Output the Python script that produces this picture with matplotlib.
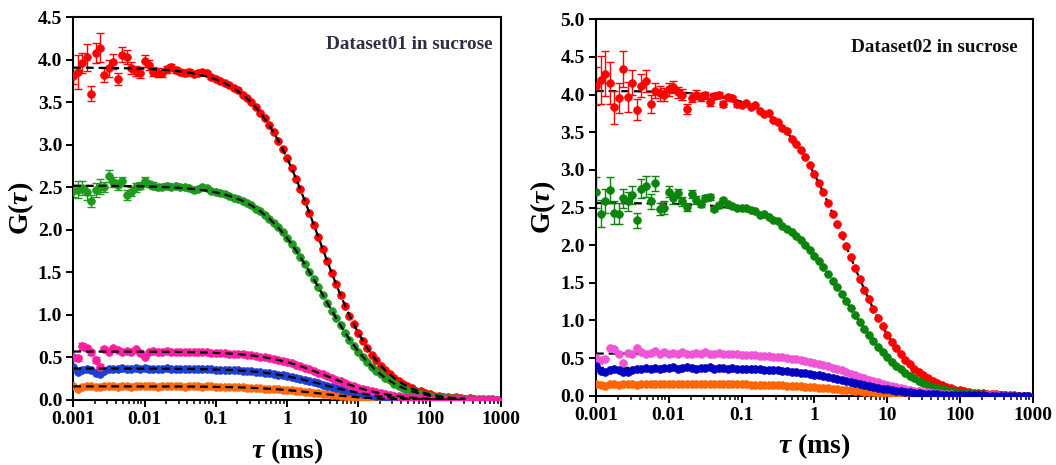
import matplotlib.pyplot as plt
import numpy as np

# шрифты: Times-подобный жирный
plt.rcParams['font.family'] = ['Liberation Serif', 'DejaVu Serif']
plt.rcParams['font.weight'] = 'bold'
plt.rcParams['mathtext.fontset'] = 'custom'
plt.rcParams['mathtext.it'] = 'Liberation Serif:italic:bold'
plt.rcParams['mathtext.rm'] = 'Liberation Serif:bold'

# времена задержки, мс
tau = [0.001, 0.001155, 0.001334, 0.00154, 0.001778, 0.002054, 0.002371, 0.002738,
       0.003162, 0.003652, 0.004217, 0.00487, 0.005623, 0.006494, 0.007499, 0.00866,
       0.01, 0.01155, 0.01334, 0.0154, 0.01778, 0.02054, 0.02371, 0.02738,
       0.03162, 0.03652, 0.04217, 0.0487, 0.05623, 0.06494, 0.07499, 0.0866,
       0.1, 0.1155, 0.1334, 0.154, 0.1778, 0.2054, 0.2371, 0.2738,
       0.3162, 0.3652, 0.4217, 0.487, 0.5623, 0.6494, 0.7499, 0.866,
       1.0, 1.155, 1.334, 1.54, 1.778, 2.054, 2.371, 2.738,
       3.162, 3.652, 4.217, 4.87, 5.623, 6.494, 7.499, 8.66,
       10.0, 11.55, 13.34, 15.4, 17.78, 20.54, 23.71, 27.38,
       31.62, 36.52, 42.17, 48.7, 56.23, 64.94, 74.99, 86.6,
       100.0, 115.5, 133.4, 154.0, 177.8, 205.4, 237.1, 273.8,
       316.2, 365.2, 421.7, 487.0, 562.3, 649.4, 749.9, 866.0]

tau_fit = [0.001, 0.003162, 0.01, 0.02371, 0.04217, 0.07499, 0.1, 0.1334, 0.1778,
           0.2371, 0.3162, 0.4217, 0.5623, 0.7499, 1, 1.334, 1.778, 2.371, 3.162,
           4.217, 5.623, 7.499, 10, 13.34, 17.78, 23.71, 31.62, 42.17, 56.23, 74.99,
           100, 177.8, 316.2]

# ---- Dataset01 ----
l_red = [3.81, 3.86, 3.96, 4.03, 3.60, 4.08, 4.14, 3.82, 3.90, 3.98, 3.77, 4.06, 4.03, 3.90, 3.87, 3.85,
         3.99, 3.94, 3.86, 3.85, 3.84, 3.89, 3.91, 3.88, 3.86, 3.84, 3.86, 3.83, 3.84, 3.86, 3.85, 3.80,
         3.77, 3.75, 3.73, 3.70, 3.67, 3.64, 3.59, 3.55, 3.50, 3.44, 3.38, 3.31, 3.23, 3.15, 3.05, 2.95,
         2.84, 2.73, 2.60, 2.48, 2.34, 2.20, 2.06, 1.92, 1.77, 1.63, 1.49, 1.36, 1.23, 1.11, 0.99, 0.89,
         0.79, 0.69, 0.61, 0.53, 0.47, 0.40, 0.35, 0.30, 0.26, 0.22, 0.19, 0.16, 0.14, 0.11, 0.10, 0.08,
         0.07, 0.05, 0.05, 0.04, 0.04, 0.02, 0.03, 0.02, 0.01, 0.02, 0.01, 0.00, 0.01, 0.00, 0.01, 0.00]
l_red_err = [0.10, 0.20, 0.12, 0.16, 0.09, 0.12, 0.17, 0.08, 0.10, 0.09, 0.07, 0.09, 0.08, 0.07, 0.06, 0.06,
             0.07, 0.06, 0.05, 0.05, 0.04, 0.04, 0.04, 0.03, 0.03, 0.03, 0.03, 0.02, 0.02, 0.02, 0.02, 0.02]
l_green = [2.46, 2.47, 2.49, 2.44, 2.34, 2.47, 2.51, 2.50, 2.63, 2.56, 2.53, 2.57, 2.41, 2.45, 2.50, 2.52,
           2.57, 2.54, 2.52, 2.50, 2.51, 2.52, 2.51, 2.52, 2.50, 2.51, 2.49, 2.47, 2.48, 2.50, 2.49, 2.46,
           2.44, 2.43, 2.42, 2.40, 2.38, 2.36, 2.34, 2.32, 2.29, 2.25, 2.22, 2.18, 2.13, 2.08, 2.03, 1.97,
           1.90, 1.83, 1.76, 1.68, 1.60, 1.51, 1.42, 1.33, 1.24, 1.14, 1.05, 0.96, 0.88, 0.79, 0.71, 0.64,
           0.57, 0.51, 0.45, 0.39, 0.34, 0.30, 0.26, 0.23, 0.19, 0.17, 0.14, 0.12, 0.10, 0.09, 0.07, 0.06,
           0.05, 0.04, 0.04, 0.03, 0.02, 0.02, 0.02, 0.01, 0.01, 0.01, 0.01, 0.01, 0.00, 0.01, 0.00, 0.00]
l_green_err = [0.07, 0.10, 0.08, 0.09, 0.07, 0.08, 0.09, 0.06, 0.07, 0.06, 0.06, 0.05, 0.06, 0.05, 0.05, 0.04,
               0.05, 0.04, 0.04, 0.03, 0.03, 0.03, 0.03, 0.02, 0.02, 0.02, 0.02, 0.02, 0.01, 0.01, 0.01, 0.01]
l_magenta = [0.50, 0.49, 0.63, 0.61, 0.56, 0.47, 0.39, 0.60, 0.57, 0.61, 0.59, 0.56, 0.58, 0.57, 0.60, 0.55,
             0.50, 0.56, 0.58, 0.57, 0.56, 0.58, 0.57, 0.56, 0.57, 0.57, 0.56, 0.57, 0.56, 0.56, 0.56, 0.55,
             0.554, 0.552, 0.550, 0.546, 0.543, 0.539, 0.535, 0.529, 0.524, 0.517, 0.510, 0.502, 0.492, 0.482, 0.471, 0.459,
             0.445, 0.430, 0.415, 0.398, 0.380, 0.361, 0.341, 0.321, 0.300, 0.279, 0.259, 0.238, 0.218, 0.198, 0.179, 0.162,
             0.145, 0.129, 0.114, 0.101, 0.089, 0.078, 0.068, 0.059, 0.051, 0.044, 0.038, 0.032, 0.027, 0.023, 0.020, 0.017,
             0.014, 0.012, 0.010, 0.008, 0.007, 0.006, 0.005, 0.004, 0.003, 0.003, 0.002, 0.002, 0.001, 0.001, 0.001, 0.001]
l_magenta_err = [0.03, 0.03, 0.04, 0.03, 0.03, 0.03, 0.03, 0.02]
l_blue = [0.39, 0.33, 0.35, 0.36, 0.35, 0.32, 0.31, 0.34, 0.36, 0.37, 0.36, 0.38, 0.37, 0.36, 0.38, 0.37,
          0.38, 0.37, 0.37, 0.36, 0.37, 0.38, 0.37, 0.36, 0.37, 0.37, 0.36, 0.37, 0.36, 0.36, 0.36, 0.36,
          0.358, 0.357, 0.355, 0.352, 0.350, 0.347, 0.344, 0.340, 0.336, 0.331, 0.326, 0.320, 0.313, 0.306, 0.298, 0.289,
          0.279, 0.269, 0.258, 0.246, 0.234, 0.221, 0.208, 0.195, 0.181, 0.168, 0.154, 0.141, 0.129, 0.116, 0.105, 0.094,
          0.084, 0.074, 0.066, 0.058, 0.050, 0.044, 0.038, 0.033, 0.028, 0.024, 0.021, 0.018, 0.015, 0.013, 0.011, 0.009,
          0.008, 0.006, 0.005, 0.004, 0.004, 0.003, 0.002, 0.002, 0.002, 0.001, 0.001, 0.001, 0.001, 0.001, 0.000, 0.000]
l_orange = [0.17, 0.13, 0.15, 0.16, 0.17, 0.15, 0.15, 0.16, 0.17, 0.16, 0.15, 0.16, 0.17, 0.15, 0.16, 0.16,
            0.16, 0.17, 0.16, 0.15, 0.16, 0.16, 0.17, 0.16, 0.16, 0.15, 0.16, 0.16, 0.16, 0.15, 0.16, 0.16,
            0.154, 0.153, 0.152, 0.151, 0.150, 0.149, 0.147, 0.145, 0.143, 0.141, 0.138, 0.135, 0.132, 0.129, 0.125, 0.121,
            0.116, 0.112, 0.107, 0.101, 0.096, 0.090, 0.084, 0.078, 0.073, 0.067, 0.061, 0.056, 0.050, 0.045, 0.041, 0.036,
            0.032, 0.028, 0.025, 0.022, 0.019, 0.017, 0.014, 0.012, 0.011, 0.009, 0.008, 0.007, 0.006, 0.005, 0.004, 0.003,
            0.003, 0.002, 0.002, 0.002, 0.001, 0.001, 0.001, 0.001, 0.001, 0.000, 0.000, 0.000, 0.000, 0.000, 0.000, 0.000]

l_red_fit = [3.908, 3.905, 3.896, 3.876, 3.849, 3.804, 3.770, 3.725, 3.667, 3.592, 3.497, 3.378, 3.230,
             3.053, 2.843, 2.604, 2.340, 2.060, 1.774, 1.494, 1.231, 0.993, 0.785, 0.610, 0.465, 0.349,
             0.258, 0.188, 0.135, 0.095, 0.066, 0.031, 0.014]
l_green_fit = [2.519, 2.517, 2.512, 2.501, 2.486, 2.461, 2.441, 2.416, 2.383, 2.341, 2.286, 2.218, 2.132,
               2.027, 1.903, 1.758, 1.595, 1.419, 1.236, 1.052, 0.876, 0.714, 0.571, 0.447, 0.344, 0.260,
               0.194, 0.142, 0.103, 0.073, 0.051, 0.024, 0.011]
l_magenta_fit = [0.570, 0.569, 0.568, 0.566, 0.563, 0.558, 0.554, 0.550, 0.543, 0.535, 0.524, 0.510, 0.492,
                 0.471, 0.445, 0.415, 0.380, 0.341, 0.300, 0.259, 0.218, 0.179, 0.145, 0.114, 0.089, 0.068,
                 0.051, 0.038, 0.027, 0.020, 0.014, 0.007, 0.003]
l_blue_fit = [0.370, 0.370, 0.369, 0.367, 0.365, 0.361, 0.358, 0.355, 0.350, 0.344, 0.336, 0.326, 0.313,
              0.298, 0.279, 0.258, 0.234, 0.208, 0.181, 0.154, 0.129, 0.105, 0.084, 0.066, 0.050, 0.038,
              0.028, 0.021, 0.015, 0.011, 0.008, 0.004, 0.002]
l_orange_fit = [0.160, 0.160, 0.159, 0.159, 0.158, 0.156, 0.154, 0.152, 0.150, 0.147, 0.143, 0.138, 0.132,
                0.125, 0.116, 0.107, 0.096, 0.084, 0.073, 0.061, 0.050, 0.041, 0.032, 0.025, 0.019, 0.014,
                0.011, 0.008, 0.006, 0.004, 0.003, 0.001, 0.001]

# ---- Dataset02 ----
r_red = [4.11, 4.19, 4.28, 4.15, 3.83, 3.95, 4.34, 3.97, 4.16, 3.80, 4.12, 4.18, 3.87, 4.05, 4.02, 4.00,
         4.07, 4.10, 4.03, 4.00, 3.81, 3.96, 4.00, 3.97, 3.99, 3.90, 3.98, 4.00, 3.88, 3.97, 3.95, 3.87,
         3.86, 3.89, 3.84, 3.86, 3.78, 3.74, 3.76, 3.66, 3.63, 3.55, 3.51, 3.41, 3.35, 3.26, 3.17, 3.06,
         2.95, 2.83, 2.70, 2.56, 2.42, 2.28, 2.13, 1.99, 1.84, 1.69, 1.55, 1.41, 1.28, 1.15, 1.03, 0.92,
         0.81, 0.72, 0.63, 0.55, 0.48, 0.42, 0.36, 0.31, 0.27, 0.23, 0.19, 0.17, 0.14, 0.12, 0.10, 0.08,
         0.07, 0.06, 0.05, 0.04, 0.03, 0.03, 0.02, 0.02, 0.02, 0.01, 0.01, 0.01, 0.01, 0.00, 0.00, 0.00]
r_red_err = [0.25, 0.32, 0.30, 0.28, 0.22, 0.20, 0.24, 0.20, 0.16, 0.14, 0.15, 0.14, 0.12, 0.10, 0.10, 0.09,
             0.09, 0.08, 0.07, 0.07, 0.07, 0.06, 0.06, 0.05, 0.05, 0.05, 0.04, 0.04, 0.04, 0.03, 0.03, 0.03]
r_green = [2.70, 2.42, 2.59, 2.73, 2.43, 2.42, 2.62, 2.58, 2.67, 2.33, 2.75, 2.78, 2.58, 2.82, 2.48, 2.50,
           2.71, 2.62, 2.69, 2.58, 2.51, 2.68, 2.60, 2.55, 2.62, 2.64, 2.48, 2.53, 2.60, 2.54, 2.52, 2.50,
           2.50, 2.49, 2.47, 2.45, 2.40, 2.41, 2.37, 2.34, 2.32, 2.26, 2.22, 2.18, 2.12, 2.07, 2.00, 1.94,
           1.86, 1.79, 1.71, 1.62, 1.53, 1.44, 1.35, 1.26, 1.16, 1.07, 0.98, 0.89, 0.81, 0.73, 0.65, 0.58,
           0.51, 0.45, 0.40, 0.35, 0.30, 0.26, 0.23, 0.20, 0.17, 0.14, 0.12, 0.10, 0.09, 0.07, 0.06, 0.05,
           0.04, 0.04, 0.03, 0.02, 0.02, 0.02, 0.01, 0.01, 0.01, 0.01, 0.01, 0.00, 0.00, 0.00, 0.00, 0.00]
r_green_err = [0.20, 0.18, 0.16, 0.17, 0.15, 0.14, 0.13, 0.12, 0.12, 0.10, 0.13, 0.14, 0.10, 0.10, 0.08, 0.08,
               0.07, 0.07, 0.06, 0.06, 0.05, 0.05, 0.05, 0.04, 0.04, 0.04, 0.03, 0.03, 0.03, 0.02, 0.02, 0.02]
r_magenta = [0.50, 0.48, 0.49, 0.64, 0.62, 0.56, 0.44, 0.57, 0.55, 0.63, 0.58, 0.56, 0.57, 0.60, 0.55, 0.58,
             0.55, 0.57, 0.56, 0.58, 0.56, 0.55, 0.57, 0.56, 0.58, 0.55, 0.56, 0.57, 0.55, 0.56, 0.55, 0.56,
             0.545, 0.542, 0.540, 0.537, 0.533, 0.530, 0.525, 0.520, 0.514, 0.508, 0.501, 0.493, 0.484, 0.474, 0.463, 0.451,
             0.437, 0.423, 0.407, 0.391, 0.373, 0.354, 0.335, 0.315, 0.295, 0.275, 0.254, 0.234, 0.214, 0.195, 0.176, 0.159,
             0.142, 0.127, 0.112, 0.099, 0.087, 0.076, 0.067, 0.058, 0.050, 0.043, 0.037, 0.032, 0.027, 0.023, 0.019, 0.016,
             0.014, 0.011, 0.010, 0.008, 0.007, 0.005, 0.004, 0.004, 0.003, 0.002, 0.002, 0.002, 0.001, 0.001, 0.001, 0.001]
r_blue = [0.39, 0.33, 0.32, 0.34, 0.35, 0.34, 0.31, 0.32, 0.34, 0.36, 0.35, 0.37, 0.36, 0.37, 0.36, 0.37,
          0.37, 0.38, 0.36, 0.37, 0.38, 0.37, 0.36, 0.37, 0.37, 0.38, 0.36, 0.37, 0.37, 0.36, 0.37, 0.36,
          0.358, 0.357, 0.355, 0.352, 0.350, 0.347, 0.344, 0.340, 0.336, 0.331, 0.326, 0.320, 0.313, 0.306, 0.298, 0.289,
          0.279, 0.269, 0.258, 0.246, 0.234, 0.221, 0.208, 0.195, 0.181, 0.168, 0.154, 0.141, 0.129, 0.116, 0.105, 0.094,
          0.084, 0.074, 0.066, 0.058, 0.050, 0.044, 0.038, 0.033, 0.028, 0.024, 0.021, 0.018, 0.015, 0.013, 0.011, 0.009,
          0.008, 0.006, 0.005, 0.004, 0.004, 0.003, 0.002, 0.002, 0.002, 0.001, 0.001, 0.001, 0.001, 0.001, 0.000, 0.000]
r_orange = [0.16, 0.14, 0.13, 0.15, 0.16, 0.14, 0.15, 0.16, 0.15, 0.14, 0.15, 0.16, 0.15, 0.16, 0.15, 0.15,
            0.15, 0.16, 0.15, 0.16, 0.15, 0.15, 0.16, 0.15, 0.16, 0.15, 0.15, 0.16, 0.15, 0.15, 0.15, 0.15,
            0.149, 0.149, 0.148, 0.147, 0.145, 0.144, 0.142, 0.141, 0.139, 0.136, 0.134, 0.131, 0.128, 0.125, 0.121, 0.117,
            0.113, 0.108, 0.103, 0.098, 0.093, 0.087, 0.082, 0.076, 0.070, 0.065, 0.059, 0.054, 0.049, 0.044, 0.039, 0.035,
            0.031, 0.027, 0.024, 0.021, 0.018, 0.016, 0.014, 0.012, 0.010, 0.009, 0.007, 0.006, 0.005, 0.004, 0.004, 0.003,
            0.003, 0.002, 0.002, 0.002, 0.001, 0.001, 0.001, 0.001, 0.001, 0.000, 0.000, 0.000, 0.000, 0.000, 0.000, 0.000]

r_red_fit = [4.048, 4.045, 4.035, 4.015, 3.987, 3.940, 3.905, 3.858, 3.798, 3.721, 3.622, 3.499, 3.346,
             3.162, 2.945, 2.697, 2.424, 2.134, 1.837, 1.548, 1.275, 1.029, 0.813, 0.631, 0.482, 0.361,
             0.267, 0.194, 0.139, 0.098, 0.069, 0.032, 0.015]
r_green_fit = [2.559, 2.557, 2.551, 2.538, 2.520, 2.490, 2.468, 2.439, 2.401, 2.352, 2.290, 2.212, 2.115,
               1.999, 1.862, 1.705, 1.532, 1.349, 1.161, 0.978, 0.806, 0.650, 0.514, 0.399, 0.304, 0.228,
               0.169, 0.123, 0.088, 0.062, 0.044, 0.020, 0.009]
r_magenta_fit = [0.560, 0.559, 0.558, 0.556, 0.554, 0.549, 0.545, 0.540, 0.533, 0.525, 0.514, 0.501, 0.484,
                 0.463, 0.437, 0.407, 0.373, 0.335, 0.295, 0.254, 0.214, 0.176, 0.142, 0.112, 0.087, 0.067,
                 0.050, 0.037, 0.027, 0.019, 0.014, 0.007, 0.003]
r_blue_fit = l_blue_fit
r_orange_fit = [0.155, 0.155, 0.154, 0.154, 0.153, 0.151, 0.149, 0.148, 0.145, 0.142, 0.139, 0.134, 0.128,
                0.121, 0.113, 0.103, 0.093, 0.082, 0.070, 0.059, 0.049, 0.039, 0.031, 0.024, 0.018, 0.014,
                0.010, 0.007, 0.005, 0.004, 0.003, 0.001, 0.001]

xticks = [0.001, 0.01, 0.1, 1, 10, 100, 1000]
xtick_labels = ['0.001', '0.01', '0.1', '1', '10', '100', '1000']


def draw_panel(ax, series, fits, fit_on_top, ymax, title, title_color, ylab_x, xlab_y, title_xy):
    # линии аппроксимации
    for f in fits:
        ax.plot(tau_fit, f, color='black', linestyle=(0, (3.5, 2.2)), linewidth=1.6,
                zorder=5 if fit_on_top else 1)
    # точки данных с погрешностями
    for vals, color, err in series:
        if err is not None:
            n = len(err)
            ax.errorbar(tau[:n], vals[:n], yerr=err, fmt='none', ecolor=color,
                        elinewidth=1.0, capsize=3, capthick=1.0, zorder=2)
        ax.plot(tau, vals, 'o', color=color, markersize=5.6, markeredgewidth=0.5,
                markeredgecolor=color, zorder=3)

    ax.set_xscale('log')
    ax.set_xlim(0.001, 1000)
    ax.set_ylim(0, ymax)
    ax.set_xticks(xticks)
    ax.set_xticklabels(xtick_labels)
    ax.set_yticks(np.arange(0, ymax + 0.01, 0.5))
    ax.set_yticklabels(['%.1f' % v for v in np.arange(0, ymax + 0.01, 0.5)])
    ax.tick_params(axis='both', which='major', direction='out', length=5, width=1.4,
                   labelsize=14, pad=3, top=False, right=False)
    ax.tick_params(axis='x', which='minor', direction='out', length=3, width=1.1, top=False)
    for s in ax.spines.values():
        s.set_linewidth(1.5)

    ax.set_ylabel('G($\\tau$)', fontsize=20, fontweight='bold')
    ax.set_xlabel('$\\tau$ (ms)', fontsize=20, fontweight='bold')
    ax.yaxis.set_label_coords(ylab_x, 0.5)
    ax.xaxis.set_label_coords(0.5, xlab_y)
    ax.text(title_xy[0], title_xy[1], title, transform=ax.transAxes, ha='right', va='center',
            fontsize=13.8, fontweight='bold', color=title_color)


fig = plt.figure(figsize=(10.56, 4.65), dpi=100)
ax1 = fig.add_axes([0.0694, 0.1398, 0.4050, 0.8230])
ax2 = fig.add_axes([0.5644, 0.1490, 0.4135, 0.8095])

draw_panel(ax1,
           [(l_red, '#ff0000', l_red_err), (l_green, '#1e9a1e', l_green_err),
            (l_orange, '#ff6a10', None), (l_blue, '#1f3fd0', None),
            (l_magenta, '#ff1ea0', l_magenta_err)],
           [l_red_fit, l_green_fit, l_magenta_fit, l_blue_fit, l_orange_fit],
           True, 4.5, 'Dataset01 in sucrose', '#2e2e48', -0.087, -0.094, (0.981, 0.930))

draw_panel(ax2,
           [(r_red, '#ff0000', r_red_err), (r_green, '#0a840a', r_green_err),
            (r_orange, '#ff6600', None), (r_magenta, '#f055d8', None),
            (r_blue, '#0000c0', None)],
           [r_red_fit, r_green_fit, r_magenta_fit, r_blue_fit, r_orange_fit],
           False, 5.0, 'Dataset02 in sucrose', '#111111', -0.087, -0.094, (0.966, 0.926))

fig.savefig('out.png', dpi=100)
